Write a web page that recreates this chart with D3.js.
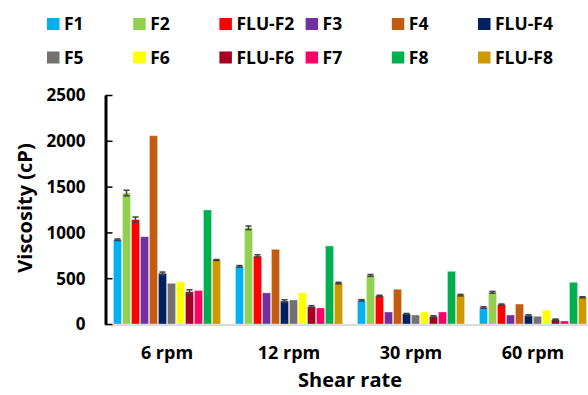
<!DOCTYPE html>
<html>
<head>
<meta charset="utf-8">
<script src="https://cdn.jsdelivr.net/npm/d3@7"></script>
<style>
  body { margin: 0; background: #fff; }
  svg { display: block; }
  text { font-family: "Open Sans", sans-serif; font-weight: bold; fill: #000; }
</style>
</head>
<body>
<script>
// shear rates on the x axis
var categories = ["6 rpm", "12 rpm", "30 rpm", "60 rpm"];
var seriesNames = ["F1", "F2", "FLU-F2", "F3", "F4", "FLU-F4", "F5", "F6", "FLU-F6", "F7", "F8", "FLU-F8"];
var seriesColors = ["#00B0F0", "#92D050", "#FF0000", "#7030A0", "#C55A11", "#002060", "#767171", "#FFFF00", "#A50021", "#FF0066", "#00B050", "#CC9900"];

// viscosity (cP), one row per series, columns follow categories
var F1 = [920, 630, 258, 180];
var F2 = [1430, 1050, 530, 346];
var FLU_F2 = [1140, 742, 306, 212];
var F3 = [953, 340, 131, 98];
var F4 = [2056, 815, 379, 218];
var FLU_F4 = [553, 250, 109, 92];
var F5 = [444, 262, 98, 84];
var F6 = [462, 340, 131, 150];
var FLU_F6 = [352, 190, 82, 48];
var F7 = [366, 175, 131, 33];
var F8 = [1245, 852, 575, 455];
var FLU_F8 = [699, 447, 315, 292];
var values = [F1, F2, FLU_F2, F3, F4, FLU_F4, F5, F6, FLU_F6, F7, F8, FLU_F8];

// error bar half-widths
var errors = [
  [8, 8, 8, 8],
  [30, 20, 10, 10],
  [28, 14, 8, 6],
  [0, 0, 0, 0],
  [0, 0, 0, 0],
  [14, 14, 6, 8],
  [0, 0, 0, 0],
  [0, 0, 0, 0],
  [22, 10, 8, 6],
  [0, 0, 0, 0],
  [0, 0, 0, 0],
  [5, 8, 8, 6]
];
var yTicks = [0, 500, 1000, 1500, 2000, 2500];

var width = 588, height = 395;
var svg = d3.select("body").append("svg").attr("width", width).attr("height", height);

var x0 = d3.scaleBand().domain(categories).range([106, 594]);
var x1 = d3.scaleBand().domain(seriesNames).range([7, 115]).paddingInner(0.1).paddingOuter(0.05);
var y = d3.scaleLinear().domain([0, 2500]).range([324, 95]);
var color = d3.scaleOrdinal().domain(seriesNames).range(seriesColors);

// x baseline
svg.append("line").attr("x1", 104).attr("x2", 588).attr("y1", y(0) + 1).attr("y2", y(0) + 1)
  .style("stroke", "#D9D9D9").style("stroke-width", 2);

// bars
var rows = [];
seriesNames.forEach(function(s, i){
  categories.forEach(function(c, j){
    rows.push({ s: s, c: c, v: values[i][j], e: errors[i][j] });
  });
});

var g = svg.append("g");
g.selectAll("rect").data(rows).enter().append("rect")
  .attr("x", function(d){ return x0(d.c) + x1(d.s); })
  .attr("y", function(d){ return y(d.v); })
  .attr("width", x1.bandwidth())
  .attr("height", function(d){ return y(0) - y(d.v); })
  .style("fill", function(d){ return color(d.s); })
  .style("stroke", "#fff").style("stroke-opacity", 0.35).style("stroke-width", 1);

// error bars
var eb = g.selectAll("g.err").data(rows.filter(function(d){ return d.e > 0; })).enter().append("g").attr("class", "err");
eb.append("line")
  .attr("x1", function(d){ return x0(d.c) + x1(d.s) + x1.bandwidth()/2; })
  .attr("x2", function(d){ return x0(d.c) + x1(d.s) + x1.bandwidth()/2; })
  .attr("y1", function(d){ return y(d.v - d.e); })
  .attr("y2", function(d){ return y(d.v + d.e); });
eb.append("line")
  .attr("x1", function(d){ return x0(d.c) + x1(d.s) + 1; })
  .attr("x2", function(d){ return x0(d.c) + x1(d.s) + x1.bandwidth() - 1; })
  .attr("y1", function(d){ return y(d.v + d.e); })
  .attr("y2", function(d){ return y(d.v + d.e); });
eb.append("line")
  .attr("x1", function(d){ return x0(d.c) + x1(d.s) + 1; })
  .attr("x2", function(d){ return x0(d.c) + x1(d.s) + x1.bandwidth() - 1; })
  .attr("y1", function(d){ return y(d.v - d.e); })
  .attr("y2", function(d){ return y(d.v - d.e); });
eb.selectAll("line").style("stroke", "#404040").style("stroke-width", 1.5);

// y axis
var yAxis = svg.append("g").attr("transform", "translate(105.5,0)")
  .call(d3.axisLeft(y).tickValues(yTicks).tickFormat(d3.format("d")).tickSizeInner(-7).tickSizeOuter(0).tickPadding(20));
yAxis.select(".domain").style("stroke", "#000").style("stroke-width", 3);
yAxis.selectAll(".tick line").style("stroke", "#000").style("stroke-width", 1.5);
yAxis.selectAll(".tick text").style("font-size", "17px").style("font-family", "Open Sans").style("font-weight", "bold").attr("dy", "0.35em");

// category labels
svg.append("g").selectAll("text").data(categories).enter().append("text")
  .attr("x", function(d){ return x0(d) + x0.bandwidth()/2; })
  .attr("y", 359)
  .attr("text-anchor", "middle")
  .style("font-size", "18px")
  .text(function(d){ return d; });

// axis titles
svg.append("text").attr("x", 350).attr("y", 387).attr("text-anchor", "middle")
  .style("font-size", "20px").text("Shear rate");
svg.append("text").attr("transform", "translate(32,208) rotate(-90)").attr("text-anchor", "middle")
  .style("font-size", "20px").text("Viscosity (cP)");

// legend, two rows of six
var legend = svg.append("g").selectAll("g").data(seriesNames).enter().append("g")
  .attr("transform", function(d, i){ return "translate(" + (47 + (i % 6) * 86.2) + "," + (i < 6 ? 18 : 51.5) + ")"; });
legend.append("rect").attr("width", 12.5).attr("height", 12)
  .style("fill", function(d){ return color(d); });
legend.append("text").attr("x", 17).attr("y", 12).style("font-size", "17.5px")
  .text(function(d){ return d; });
</script>
</body>
</html>
